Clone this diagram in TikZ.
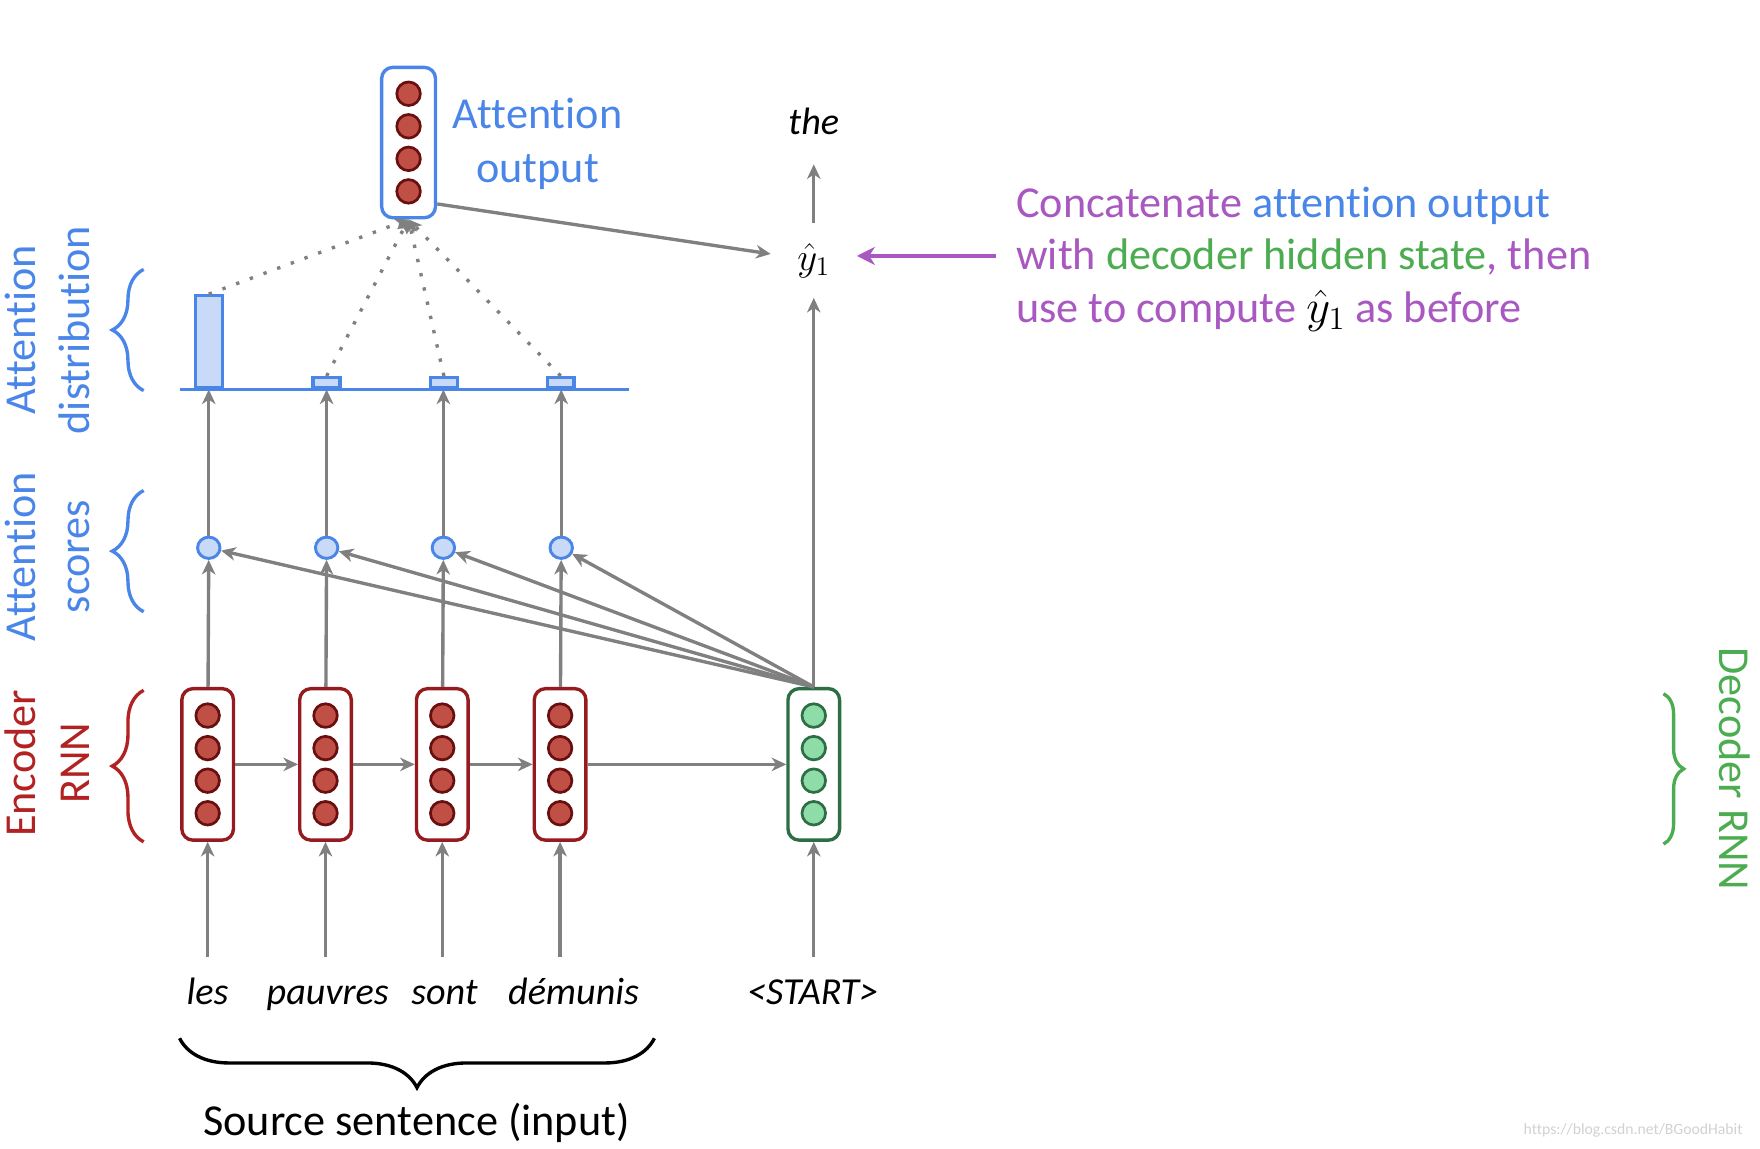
\documentclass[tikz,border=0pt]{standalone}
\usepackage{amsmath}
\usepackage{fontspec}
\setmainfont{Carlito}[Ligatures=NoCommon]
\usetikzlibrary{arrows.meta,decorations.pathreplacing,shapes.geometric}

\definecolor{attblue}{RGB}{74,134,232}
\definecolor{attfill}{RGB}{201,218,248}
\definecolor{encred}{RGB}{150,27,32}
\definecolor{unitred}{RGB}{192,80,70}
\definecolor{unitdark}{RGB}{105,15,15}
\definecolor{decdark}{RGB}{46,110,68}
\definecolor{decfill}{RGB}{142,220,168}
\definecolor{decgreen}{RGB}{76,172,80}
\definecolor{labred}{RGB}{178,34,34}
\definecolor{concpurple}{RGB}{168,88,192}
\definecolor{arrgray}{RGB}{128,128,128}

\tikzset{
        arr/.style={draw=arrgray, line width=1.5pt, -{Stealth[length=6.5pt, width=6pt, inset=2pt]}},
        dotarr/.style={draw=arrgray, line width=1.5pt, dash pattern=on 1.5pt off 5pt, -{Stealth[length=6pt, width=5pt, inset=1.5pt]}},
        encbox/.style={draw=encred, line width=1.5pt, fill=white, rounded corners=5pt, minimum width=23pt, minimum height=67.5pt, inner sep=0pt},
        decbox/.style={encbox, draw=decdark},
        attbox/.style={encbox, draw=attblue, minimum width=24pt, minimum height=67pt},
        unit/.style={circle, draw=unitdark, fill=unitred, line width=1.2pt, minimum size=10.5pt, inner sep=0pt},
        decunit/.style={unit, draw=decdark, fill=decfill},
        score/.style={ellipse, draw=attblue, fill=attfill, line width=1.3pt, minimum width=10pt, minimum height=9.5pt, inner sep=0pt},
        bar/.style={draw=attblue, fill=attfill, line width=1.5pt, minimum width=12pt, inner sep=0pt, anchor=south},
        word/.style={font=\fontsize{17}{20}\selectfont\itshape, text height=12pt, text depth=4pt, inner ysep=9pt},
        biglabel/.style={font=\fontsize{19.7}{24}\selectfont, align=center},
        sidelabel/.style={biglabel, rotate=90},
        sidebrace/.style={decorate, decoration={brace, amplitude=14pt}, line width=1.5pt}
}

\begin{document}
\begin{tikzpicture}[x=0.5pt, y=-0.5pt]
        \useasboundingbox (0,0) rectangle (1568,1023);

        \node (e1) at (185,681) [encbox] {};
        \node (e2) at (290,681) [encbox] {};
        \node (e3) at (394,681) [encbox] {};
        \node (e4) at (499,681) [encbox] {};
        \node (d) at (725,681) [decbox] {};
        \node (att) at (364,127) [attbox] {};
        \foreach \b in {e1,e2,e3,e4,att}
                \foreach \s in {21.75,7.25,-7.25,-21.75}
                        \node at ([yshift=\s pt]\b) [unit] {};
        \foreach \s in {21.75,7.25,-7.25,-21.75}
                \node at ([yshift=\s pt]d) [decunit] {};

        \node (w1) at (185,887) [word] {les};
        \node (w2) at (292,887) [word] {pauvres};
        \node (w3) at (396,887) [word] {sont};
        \node (w4) at (511,887) [word] {démunis};
        \node (start) at (724,887) [word] {<START>};
        \node (src) at (371,1000) [biglabel] {Source sentence (input)};

        \node (s1) at (186,488) [score] {};
        \node (s2) at (291,488) [score] {};
        \node (s3) at (395,488) [score] {};
        \node (s4) at (500,488) [score] {};

        \coordinate (bl) at (160,347);
        \coordinate (br) at (560,347);

        \node (yhat) at (725,232) [minimum width=38pt, minimum height=33pt, inner sep=0pt, font=\fontsize{18}{20}\selectfont] {$\hat{y}_1$};
        \node (the) at (725,112) [word] {the};

        \draw[arr] (w1.north -| e1) -- (e1);
        \draw[arr] (w2.north -| e2) -- (e2);
        \draw[arr] (w3.north -| e3) -- (e3);
        \draw[arr] (w4.north -| e4) -- (e4);
        \draw[arr] (start.north -| d) -- (d);
        \draw[arr] (e1) -- (e2);
        \draw[arr] (e2) -- (e3);
        \draw[arr] (e3) -- (e4);
        \draw[arr] (e4) -- (d);
        \draw[arr] (e1) -- (s1);
        \draw[arr] (e2) -- (s2);
        \draw[arr] (e3) -- (s3);
        \draw[arr] (e4) -- (s4);
        \draw[arr] (d.north) -- (s1);
        \draw[arr] (d.north) -- (s2);
        \draw[arr] (d.north) -- (s3);
        \draw[arr] (d.north) -- (s4);
        \draw[arr] (s1) -- (s1 |- bl);
        \draw[arr] (s2) -- (s2 |- bl);
        \draw[arr] (s3) -- (s3 |- bl);
        \draw[arr] (s4) -- (s4 |- bl);
        \draw[arr] (d) -- (yhat);
        \draw[arr] (yhat) -- (the);
        \draw[arr] (att.-65) -- (yhat);

        \draw[attblue, line width=1.5pt] (bl) -- (br);
        \node (p1) at (186,347) [bar, minimum height=41pt] {};
        \node (p2) at (291,347) [bar, minimum height=4.5pt] {};
        \node (p3) at (395.5,347) [bar, minimum height=4.5pt] {};
        \node (p4) at (499.5,347) [bar, minimum height=4.5pt] {};
        \draw[dotarr] (p1.north) -- (att.south);
        \draw[dotarr] (p2.north) -- (att.south);
        \draw[dotarr] (p3.north) -- (att.south);
        \draw[dotarr] (p4.north) -- (att.south);

        \node (attlab) at (479,128) [biglabel, text=attblue] {Attention\\output};

        \node (concat) at (905,231) [biglabel, anchor=west, align=left, inner sep=0pt, text=concpurple, font=\fontsize{19.7}{23.5}\selectfont] {Concatenate \textcolor{attblue}{attention output}\\with \textcolor{decgreen}{decoder hidden state}, then\\use to compute \textcolor{black}{$\hat{y}_1$} as before};
        \coordinate (ptail) at (887,228);
        \draw[concpurple, line width=2pt, -{Stealth[length=8pt, width=8pt, inset=2.5pt]}] (ptail) -- (ptail -| yhat.east);

        \node (ldist) at (42,294) [sidelabel, text=attblue] {Attention\\distribution};
        \node (lscore) at (42,496) [sidelabel, text=attblue] {Attention\\scores};
        \node (lenc) at (42,680) [sidelabel, text=labred] {Encoder\\RNN};
        \node (ldec) at (1545,685) [biglabel, rotate=-90, text=decgreen] {Decoder RNN};
        \draw[sidebrace, attblue] (128,348) -- (128,240);
        \draw[sidebrace, attblue] (128,545) -- (128,437);
        \draw[sidebrace, labred] (128,750) -- (128,615);
        \draw[sidebrace, decgreen, decoration={amplitude=9pt}] (1482,618) -- (1482,752);
        \draw[sidebrace, decoration={amplitude=22pt}] (583,925) -- (160,925);

        \node (wm) at (1455,1007) [font=\fontsize{7}{8}\selectfont, text=black!18] {https://blog.csdn.net/BGoodHabit};
\end{tikzpicture}
\end{document}
